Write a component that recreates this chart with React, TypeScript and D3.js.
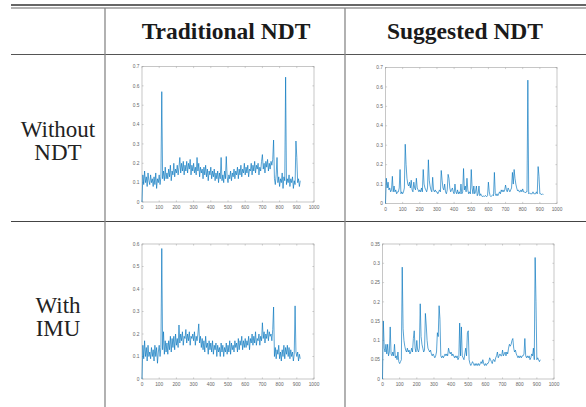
import React from "react";
import * as d3 from "d3";

// sample spacing of the traces (iterations)
const STEP = 5;

const columns = ["Traditional NDT", "Suggested NDT"];
const rows = [["Without", "NDT"], ["With", "IMU"]];

const xTicks = [0, 100, 200, 300, 400, 500, 600, 700, 800, 900, 1000];
const yTicks07 = [0, 0.1, 0.2, 0.3, 0.4, 0.5, 0.6, 0.7];
const yTicks06 = [0, 0.1, 0.2, 0.3, 0.4, 0.5, 0.6];
const yTicks035 = [0, 0.05, 0.1, 0.15, 0.2, 0.25, 0.3, 0.35];

// traditional NDT, without IMU
const tradNoImu = [
  0, .14, .09, .16, .1, .13, .08, .15, .11, .09,
  .14, .1, .12, .08, .13, .09, .15, .07, .12, .1,
  .14, .09, .13, .57, .12, .16, .11, .18, .12, .15,
  .12, .17, .13, .19, .11, .16, .14, .2, .13, .17,
  .15, .19, .14, .18, .23, .15, .2, .16, .21, .14,
  .19, .16, .21, .15, .2, .17, .22, .14, .19, .16,
  .2, .15, .18, .14, .23, .16, .2, .13, .18, .15,
  .17, .12, .18, .14, .19, .13, .17, .11, .16, .14,
  .18, .12, .16, .13, .17, .11, .15, .12, .16, .1,
  .15, .12, .23, .11, .14, .1, .16, .12, .235, .13,
  .1, .14, .12, .16, .11, .15, .13, .17, .12, .16,
  .14, .18, .12, .17, .14, .19, .13, .17, .15, .2,
  .14, .18, .15, .19, .13, .17, .16, .2, .14, .19,
  .16, .21, .15, .19, .17, .2, .14, .18, .16, .21,
  .245, .17, .2, .15, .21, .18, .22, .16, .2, .17,
  .21, .19, .22, .32, .12, .09, .14, .23, .1, .13,
  .08, .12, .1, .15, .07, .13, .11, .645, .09, .12,
  .1, .14, .08, .12, .1, .13, .07, .11, .09, .315,
  .23, .1, .12, .08, .11,
];

// suggested NDT, without IMU
const suggNoImu = [
  0, .13, .08, .11, .07, .08, .06, .07, .14, .06,
  .09, .06, .07, .05, .06, .06, .08, .175, .05, .06,
  .05, .06, .08, .305, .2, .13, .1, .09, .11, .08,
  .12, .07, .06, .11, .08, .07, .13, .08, .07, .06,
  .07, .06, .08, .06, .175, .1, .08, .07, .06, .08,
  .225, .12, .09, .07, .06, .135, .07, .06, .07, .06,
  .06, .05, .06, .07, .06, .17, .12, .08, .07, .1,
  .06, .05, .07, .15, .13, .08, .06, .07, .08, .06,
  .05, .1, .06, .05, .07, .05, .06, .05, .1, .05,
  .06, .18, .07, .09, .06, .13, .07, .05, .06, .05,
  .175, .08, .05, .09, .05, .06, .09, .04, .05, .09,
  .04, .05, .04, .035, .04, .035, .04, .04, .035, .04,
  .11, .06, .04, .035, .04, .045, .04, .16, .05, .04,
  .05, .04, .05, .06, .05, .07, .06, .07, .06, .07,
  .095, .07, .06, .08, .07, .06, .07, .08, .16, .1,
  .175, .13, .1, .08, .065, .07, .06, .06, .07, .06,
  .075, .06, .06, .055, .06, .06, .635, .05, .055, .05,
  .05, .05, .06, .05, .05, .05, .06, .05, .19, .14,
  .05, .05, .045, .05, .045,
];

// traditional NDT, with IMU
const tradImu = [
  0, .15, .09, .17, .1, .14, .08, .15, .1, .12,
  .09, .14, .1, .13, .08, .15, .1, .14, .07, .12,
  .15, .1, .14, .58, .13, .21, .11, .17, .12, .16,
  .11, .17, .13, .19, .12, .18, .14, .19, .13, .2,
  .15, .18, .14, .24, .16, .2, .17, .21, .15, .19,
  .18, .22, .16, .2, .17, .21, .15, .19, .18, .2,
  .17, .21, .15, .19, .17, .2, .245, .16, .19, .14,
  .18, .13, .17, .12, .19, .14, .16, .11, .17, .13,
  .16, .12, .17, .11, .15, .13, .16, .1, .15, .12,
  .14, .1, .16, .12, .15, .1, .14, .12, .16, .11,
  .15, .12, .17, .11, .16, .13, .15, .12, .17, .14,
  .16, .12, .18, .13, .17, .15, .19, .13, .17, .14,
  .18, .14, .17, .15, .19, .13, .18, .16, .2, .15,
  .19, .16, .21, .15, .18, .17, .2, .15, .19, .17,
  .25, .18, .21, .16, .2, .18, .22, .17, .21, .19,
  .2, .17, .22, .32, .1, .14, .09, .13, .11, .15,
  .09, .12, .08, .13, .1, .15, .09, .14, .11, .15,
  .1, .14, .09, .13, .1, .12, .08, .11, .325, .12,
  .1, .12, .08, .11, .09,
];

// suggested NDT, with IMU
const suggImu = [
  0, .15, .08, .07, .09, .065, .09, .06, .07, .135,
  .065, .06, .07, .06, .09, .055, .06, .05, .07, .045,
  .04, .045, .05, .29, .13, .1, .085, .075, .07, .08,
  .07, .075, .065, .07, .08, .07, .105, .125, .08, .07,
  .1, .075, .07, .08, .195, .11, .09, .08, .07, .075,
  .17, .14, .1, .08, .075, .07, .075, .065, .06, .065,
  .06, .055, .06, .07, .12, .11, .19, .155, .06, .055,
  .06, .055, .06, .065, .06, .065, .06, .08, .07, .065,
  .07, .06, .065, .06, .055, .06, .055, .06, .05, .055,
  .145, .06, .135, .06, .055, .05, .065, .08, .06, .12,
  .125, .05, .04, .035, .04, .045, .04, .035, .04, .035,
  .04, .035, .04, .035, .04, .045, .04, .05, .04, .035,
  .04, .035, .04, .04, .045, .055, .05, .045, .04, .05,
  .05, .045, .055, .06, .07, .055, .06, .065, .06, .06,
  .075, .06, .065, .07, .06, .07, .065, .08, .09, .085,
  .09, .1, .105, .08, .07, .075, .065, .06, .055, .06,
  .055, .06, .055, .06, .06, .065, .105, .06, .055, .06,
  .055, .06, .05, .055, .065, .06, .08, .05, .315, .2,
  .05, .055, .05, .045, .05,
];

type Box = { x0: number; y0: number; x1: number; y1: number };

const sans = "'Liberation Sans', Arial, sans-serif";
const serif = "'Liberation Serif', 'Times New Roman', serif";

function Plot({ box, values, yTicks }: { box: Box; values: number[]; yTicks: number[] }) {
  const x = d3.scaleLinear().domain([0, 1000]).range([box.x0, box.x1]);
  const y = d3.scaleLinear().domain([0, yTicks[yTicks.length - 1]]).range([box.y1, box.y0]);
  const line = d3
    .line<number>()
    .x((_, i) => x(i * STEP))
    .y((d) => y(d));
  const fmt = (v: number) => (v === 0 ? "0" : String(v));
  const tk = 1.6;
  const axisCol = "#a0a0a0";
  return (
    <g>
      <rect x={box.x0} y={box.y0} width={box.x1 - box.x0} height={box.y1 - box.y0} fill="white" stroke={axisCol} strokeWidth={0.6} />
      {xTicks.map((t) => (
        <g key={"x" + t}>
          <line x1={x(t)} x2={x(t)} y1={box.y1} y2={box.y1 - tk} stroke={axisCol} strokeWidth={0.5} />
          <line x1={x(t)} x2={x(t)} y1={box.y0} y2={box.y0 + tk} stroke={axisCol} strokeWidth={0.5} />
          <text x={x(t)} y={box.y1 + 7} textAnchor="middle" fontSize={4.8} fill="#666" style={{ fontFamily: sans }}>
            {t}
          </text>
        </g>
      ))}
      {yTicks.map((t) => (
        <g key={"y" + t}>
          <line x1={box.x0} x2={box.x0 + tk} y1={y(t)} y2={y(t)} stroke={axisCol} strokeWidth={0.5} />
          <line x1={box.x1} x2={box.x1 - tk} y1={y(t)} y2={y(t)} stroke={axisCol} strokeWidth={0.5} />
          <text x={box.x0 - 2.5} y={y(t) + 1.7} textAnchor="end" fontSize={4.8} fill="#666" style={{ fontFamily: sans }}>
            {fmt(t)}
          </text>
        </g>
      ))}
      <path d={line(values) ?? ""} fill="none" stroke="#0072BD" strokeWidth={0.65} strokeLinejoin="round" />
    </g>
  );
}

export default function App() {
  const W = 586;
  const H = 407;
  const colX = [105, 345];
  const plots = [
    { box: { x0: 142, y0: 66.5, x1: 314, y1: 202 }, values: tradNoImu, ticks: yTicks07 },
    { box: { x0: 385.5, y0: 67.5, x1: 557, y1: 203.5 }, values: suggNoImu, ticks: yTicks07 },
    { box: { x0: 142, y0: 244, x1: 314, y1: 379 }, values: tradImu, ticks: yTicks06 },
    { box: { x0: 382.5, y0: 244, x1: 554, y1: 379 }, values: suggImu, ticks: yTicks035 },
  ];
  return (
    <svg width={W} height={H} style={{ position: "absolute", left: 0, top: 0 }}>
      <rect width={W} height={H} fill="white" />
      {/* table rules */}
      <line x1={11} x2={W} y1={5} y2={5} stroke="#333" strokeWidth={1.3} />
      <line x1={11} x2={W} y1={8} y2={8} stroke="#555" strokeWidth={0.9} />
      <line x1={11} x2={W} y1={54.5} y2={54.5} stroke="#555" strokeWidth={1} />
      <line x1={11} x2={W} y1={221.5} y2={221.5} stroke="#444" strokeWidth={1} />
      {colX.map((cx) => (
        <line key={cx} x1={cx} x2={cx} y1={8} y2={H} stroke="#888" strokeWidth={1.3} />
      ))}
      {columns.map((c, i) => (
        <text key={c} x={i === 0 ? 226 : 465} y={39} textAnchor="middle" fontWeight="bold" fontSize={23.5} fill="#1a1a1a" style={{ fontFamily: serif }}>
          {c}
        </text>
      ))}
      {rows.map((r, i) =>
        r.map((s, j) => (
          <text key={s} x={58} y={(i === 0 ? 137 : 313) + j * 23} textAnchor="middle" fontSize={23} fill="#222" style={{ fontFamily: serif }}>
            {s}
          </text>
        ))
      )}
      {plots.map((p, i) => (
        <Plot key={i} box={p.box} values={p.values} yTicks={p.ticks} />
      ))}
    </svg>
  );
}
